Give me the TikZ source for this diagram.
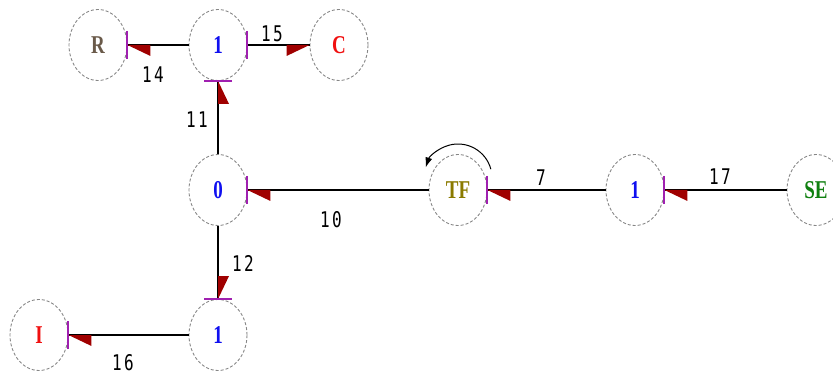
\documentclass[tikz,border=0pt]{standalone}
\usepackage{fontspec}
\usetikzlibrary{calc,shapes.geometric,arrows.meta}

\newfontfamily\elemfont{Liberation Serif}
\newfontfamily\numfont[LetterSpace=15]{DejaVu Sans Mono}

\definecolor{ringgray}{HTML}{868686}
\definecolor{tipred}{HTML}{A00000}
\definecolor{causalpurple}{HTML}{A020B0}
\definecolor{txtR}{HTML}{6A5A4A}
\definecolor{txtblue}{HTML}{1010F0}
\definecolor{txtred}{HTML}{F01010}
\definecolor{txttf}{HTML}{8A7A00}
\definecolor{txtse}{HTML}{108010}

% vertically stretched lettering
\newcommand\talltext[1]{\scalebox{1}[1.35]{#1}}

% bond: line, half arrow head at the far end, causal stroke at one end
% #1 from, #2 to, #3 bond name, #4 side of the half head (90 = left of travel),
% #5 position of the causal stroke along the bond (0 or 1)
\newcommand\bondlink[5]{%
  \draw[bondline] (#1) -- (#2)
    coordinate[pos=0] (#3s) coordinate[pos=0.5] (#3m)
    coordinate[pos=1] (#3e) coordinate[pos=#5] (#3c);
  \coordinate (#3b) at ($(#3e)!23pt!(#3s)$);
  \fill[halfhead] (#3e) -- (#3b) -- ($(#3b)!11pt!#4:(#3e)$) -- cycle;
  \draw[causalbar] ($(#3c)!14pt!90:(#3m)$) -- ($(#3c)!14pt!-90:(#3m)$);
}

\tikzset{
  elem/.style={ellipse, draw=ringgray, dash pattern=on 3pt off 2pt,
    line width=0.9pt, minimum width=58pt, minimum height=71pt, inner sep=0pt,
    font=\elemfont\bfseries\fontsize{19}{19}\selectfont},
  bondline/.style={line width=1.4pt, black},
  halfhead/.style={fill=tipred},
  causalbar/.style={draw=causalpurple, line width=2pt},
  bondnum/.style={inner sep=0pt, font=\numfont\fontsize{16}{16}\selectfont},
  turnarrow/.style={line width=1pt, -{Latex[length=10pt,width=7pt]}}
}

\begin{document}
\begin{tikzpicture}[x=1pt,y=1pt]
\useasboundingbox (0,0) rectangle (833,378);

% elements and junctions
\node[elem, text=txtR]    (R)   at (98,333)  {\talltext{R}};
\node[elem, text=txtblue] (J1a) at (218,333) {\talltext{1}};
\node[elem, text=txtred]  (C)   at (339,333) {\talltext{C}};
\node[elem, text=txtblue] (J0)  at (218,188) {\talltext{0}};
\node[elem, text=txttf]   (TF)  at (458,188) {\talltext{TF}};
\node[elem, text=txtblue] (J1b) at (635,188) {\talltext{1}};
\node[elem, text=txtse]   (SE)  at (816,188) {\talltext{SE}};
\node[elem, text=txtred]  (I)   at (39,43)   {\talltext{I}};
\node[elem, text=txtblue] (J1c) at (218,43)  {\talltext{1}};

% bonds
\bondlink{J1a}{R}{b14}{90}{1}
\bondlink{J1a}{C}{b15}{-90}{0}
\bondlink{J0}{J1a}{b11}{-90}{1}
\bondlink{TF}{J0}{b10}{90}{1}
\bondlink{J1b}{TF}{b7}{90}{1}
\bondlink{SE}{J1b}{b17}{90}{1}
\bondlink{J0}{J1c}{b12}{90}{1}
\bondlink{J1c}{I}{b16}{90}{1}

% bond numbers
\node[bondnum] (n14) at (153,303) {\talltext{14}};
\node[bondnum] (n15) at (272,344) {\talltext{15}};
\node[bondnum] (n11) at (197,258) {\talltext{11}};
\node[bondnum] (n10) at (331,158) {\talltext{10}};
\node[bondnum] (n7)  at (541,200) {\talltext{7}};
\node[bondnum] (n17) at (720,201) {\talltext{17}};
\node[bondnum] (n12) at (243,115) {\talltext{12}};
\node[bondnum] (n16) at (123,15)  {\talltext{16}};

% sense of the transformer
\draw[turnarrow] ($(TF)+(0,12)+(15:34)$) arc[start angle=15, end angle=162, radius=34];
\end{tikzpicture}
\end{document}
